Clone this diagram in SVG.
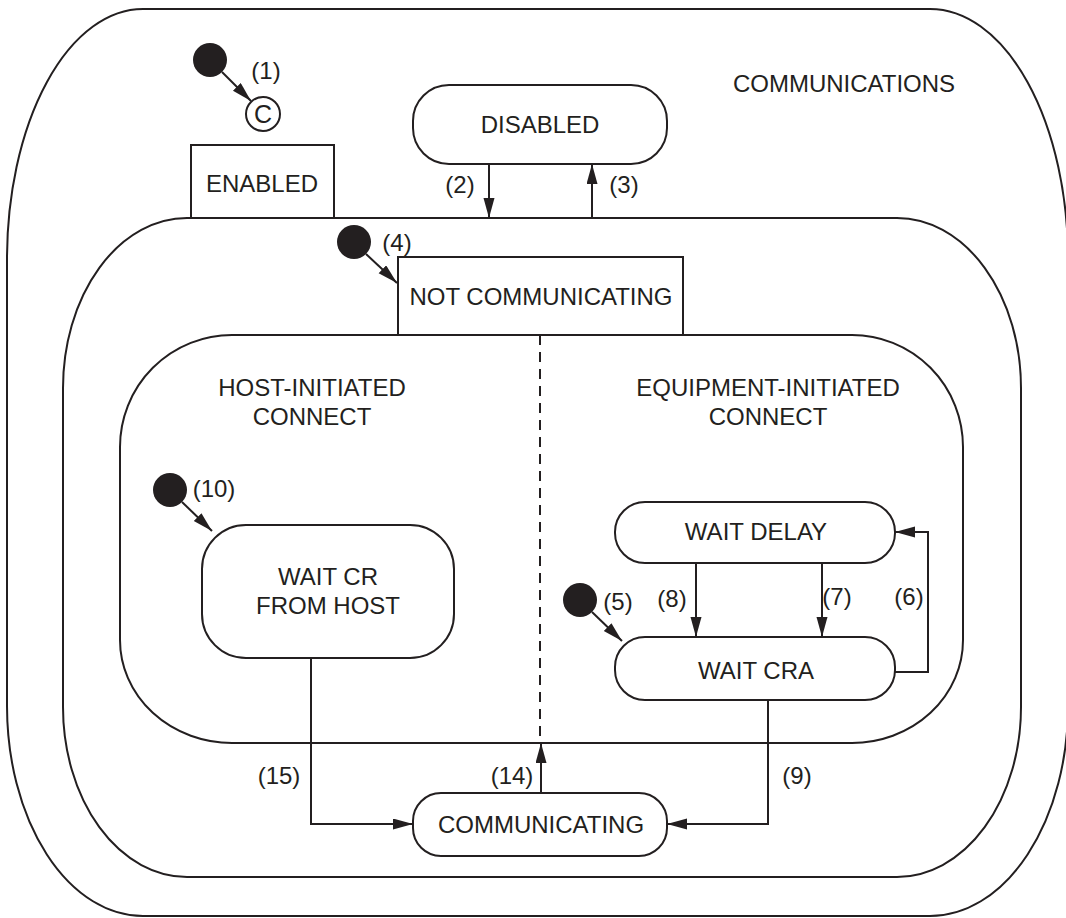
<svg xmlns="http://www.w3.org/2000/svg" width="1066" height="918" viewBox="0 0 1066 918">
<style>
.s{fill:none;stroke:#231f20;stroke-width:2}
.b{fill:#fff;stroke:#231f20;stroke-width:2}
.d{fill:#231f20}
.t{font-family:"Liberation Sans",Arial,sans-serif;font-size:24px;fill:#231f20;text-anchor:middle}
.c{fill:none;stroke:#231f20;stroke-width:2}
</style>
<defs>
<marker id="ah" markerUnits="userSpaceOnUse" markerWidth="21" markerHeight="12" refX="20" refY="5.5" orient="auto">
<path d="M0,0 L20,5.5 L0,11 Z" fill="#231f20"/>
</marker>
</defs>
<rect width="1066" height="918" fill="#fff"/>
<g id="communications">
<path class="b" d="M143,9 H930 A138,250 0 0 1 1068,259 V706 A138,210 0 0 1 930,916 H143 A136,210 0 0 1 7,706 V259 A136,250 0 0 1 143,9 Z"/>
<text class="t" x="844" y="92">COMMUNICATIONS</text>
</g>
<g id="enabled-region">
<path class="b" d="M187,218 H897 A124,170 0 0 1 1021,388 V707 A124,170 0 0 1 897,877 H187 A124,170 0 0 1 63,707 V388 A124,170 0 0 1 187,218 Z"/>
</g>
<g id="enabled">
<rect class="b" x="191" y="145" width="143" height="73"/>
<text class="t" x="262" y="192">ENABLED</text>
</g>
<g id="init1">
<circle class="d" cx="210" cy="60" r="17"/>
</g>
<g id="history">
<circle class="b" cx="263" cy="114" r="17"/>
<text class="t" x="263" y="123" style="font-size:25px">C</text>
</g>
<g id="disabled">
<rect class="b" x="413" y="85" width="254" height="79" rx="36" ry="36"/>
<text class="t" x="540" y="133">DISABLED</text>
</g>
<g id="not-communicating">
<rect class="b" x="398" y="257" width="285" height="78"/>
<text class="t" x="541" y="305">NOT COMMUNICATING</text>
</g>
<g id="init4">
<circle class="d" cx="354" cy="242" r="17"/>
</g>
<g id="connect-region">
<path class="b" d="M232,335 H852 A111,112 0 0 1 963,447 V640 A111,103 0 0 1 852,743 H232 A112,103 0 0 1 120,640 V447 A112,112 0 0 1 232,335 Z"/>
<line x1="540" y1="335" x2="540" y2="743" stroke="#231f20" stroke-width="2" stroke-dasharray="10,7"/>
<text class="t" x="312" y="396">HOST-INITIATED</text>
<text class="t" x="312" y="425">CONNECT</text>
<text class="t" x="768" y="396">EQUIPMENT-INITIATED</text>
<text class="t" x="768" y="425">CONNECT</text>
</g>
<g id="wait-cr-from-host">
<rect class="b" x="202" y="525" width="252" height="133" rx="44" ry="44"/>
<text class="t" x="328" y="585">WAIT CR</text>
<text class="t" x="328" y="614">FROM HOST</text>
</g>
<g id="init10">
<circle class="d" cx="170" cy="490" r="17"/>
</g>
<g id="wait-delay">
<rect class="b" x="615" y="502" width="280" height="61" rx="30" ry="30"/>
<text class="t" x="756" y="540">WAIT DELAY</text>
</g>
<g id="wait-cra">
<rect class="b" x="615" y="637" width="280" height="63" rx="30" ry="30"/>
<text class="t" x="756" y="679">WAIT CRA</text>
</g>
<g id="init5">
<circle class="d" cx="580" cy="600" r="17"/>
</g>
<g id="communicating">
<rect class="b" x="413" y="793" width="254" height="63" rx="28" ry="28"/>
<text class="t" x="541" y="833">COMMUNICATING</text>
</g>
<g id="connectors">
<line class="c" x1="222" y1="72" x2="251" y2="101" marker-end="url(#ah)"/>
<line class="c" x1="489" y1="164" x2="489" y2="218" marker-end="url(#ah)"/>
<line class="c" x1="592" y1="218" x2="592" y2="164" marker-end="url(#ah)"/>
<line class="c" x1="366" y1="254" x2="397" y2="283" marker-end="url(#ah)"/>
<line class="c" x1="182" y1="502" x2="212" y2="531" marker-end="url(#ah)"/>
<line class="c" x1="592" y1="612" x2="622" y2="641" marker-end="url(#ah)"/>
<line class="c" x1="696" y1="563" x2="696" y2="637" marker-end="url(#ah)"/>
<line class="c" x1="822" y1="563" x2="822" y2="637" marker-end="url(#ah)"/>
<polyline class="c" points="895,672 928,672 928,532 895,532" marker-end="url(#ah)"/>
<polyline class="c" points="311,658 311,824 413,824" marker-end="url(#ah)"/>
<polyline class="c" points="768,700 768,824 667,824" marker-end="url(#ah)"/>
<line class="c" x1="541" y1="793" x2="541" y2="743" marker-end="url(#ah)"/>
<text class="t" x="266" y="79">(1)</text>
<text class="t" x="460" y="193">(2)</text>
<text class="t" x="624" y="193">(3)</text>
<text class="t" x="397" y="251">(4)</text>
<text class="t" x="618" y="610">(5)</text>
<text class="t" x="909" y="605">(6)</text>
<text class="t" x="837" y="605">(7)</text>
<text class="t" x="672" y="607">(8)</text>
<text class="t" x="797" y="784">(9)</text>
<text class="t" x="214" y="497">(10)</text>
<text class="t" x="512" y="784">(14)</text>
<text class="t" x="279" y="784">(15)</text>
</g>
</svg>
